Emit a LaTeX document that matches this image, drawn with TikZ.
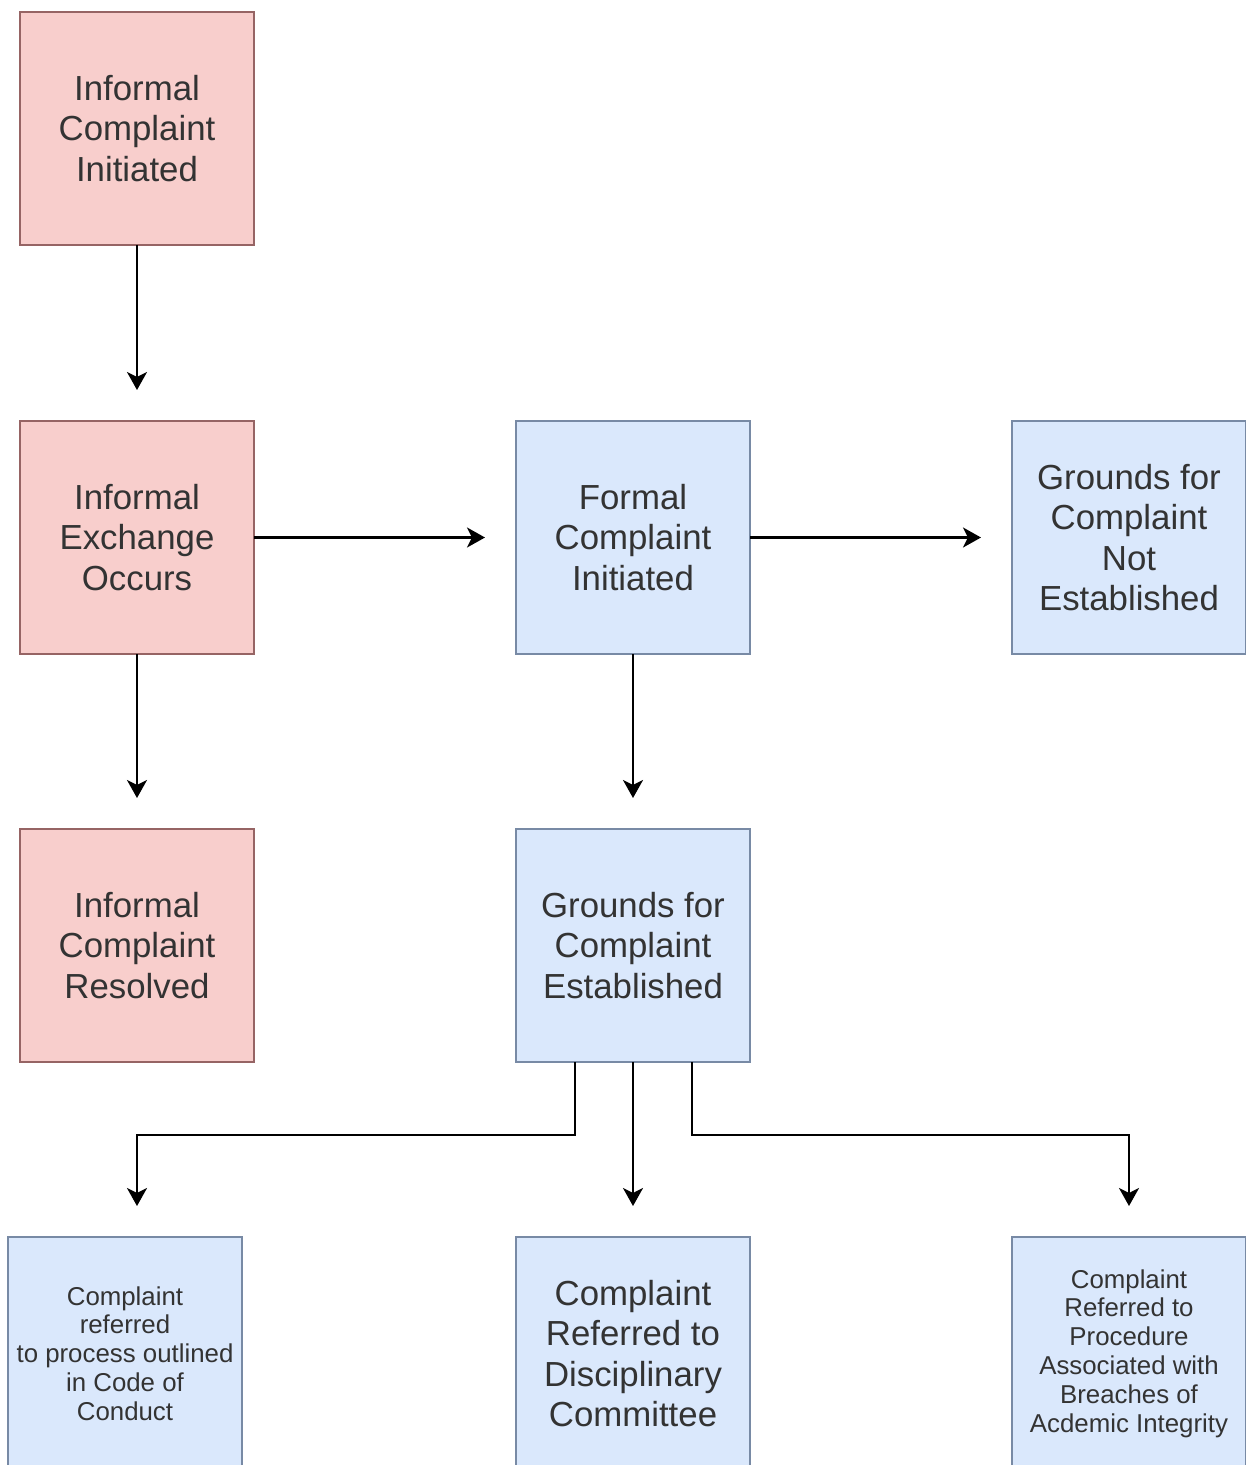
\documentclass[tikz,border=0pt]{standalone}
\usepackage{fontspec}
\setmainfont{Liberation Sans}
\usetikzlibrary{arrows.meta,positioning}
\definecolor{pinkFill}{RGB}{248,206,204}
\definecolor{pinkLine}{RGB}{150,100,100}
\definecolor{blueFill}{RGB}{218,232,252}
\definecolor{blueLine}{RGB}{120,138,165}
\definecolor{textInk}{RGB}{51,51,51}
\tikzset{
  box/.style={draw, line width=1pt, align=center, minimum width=4.68cm, minimum height=4.66cm, inner sep=0pt, outer sep=0pt, text=textInk, font=\fontsize{19.8}{23}\selectfont},
  redbox/.style={box, draw=pinkLine, fill=pinkFill},
  bluebox/.style={box, draw=blueLine, fill=blueFill},
  smallbox/.style={bluebox, font=\fontsize{14.7}{16.4}\selectfont},
  flow/.style={-{Stealth[length=0.36cm, width=0.4cm, inset=0.1cm]}, line width=1.4pt, draw=black, shorten >=0.62cm}
}
\begin{document}
\begin{tikzpicture}
        \useasboundingbox (0,0) rectangle (24.9,-29.3);
        \node[redbox] (ici) at (2.74,-2.57) {Informal\\Complaint\\Initiated};
        \node[redbox, below=3.52cm of ici] (ieo) {Informal\\Exchange\\Occurs};
        \node[redbox, below=3.5cm of ieo] (res) {Informal\\Complaint\\Resolved};
        \node[bluebox, right=5.24cm of ieo] (fci) {Formal\\Complaint\\Initiated};
        \node[bluebox, right=5.24cm of fci] (gne) {Grounds for\\Complaint\\Not\\Established};
        \node[bluebox, below=3.5cm of fci] (est) {Grounds for\\Complaint\\Established};
        \node[smallbox, below=3.5cm of res, xshift=-0.24cm] (cod) {Complaint\\referred\\to process outlined\\in Code of\\Conduct};
        \node[bluebox, below=3.5cm of est] (dis) {Complaint\\Referred to\\Disciplinary\\Committee};
        \node[smallbox, right=5.24cm of dis] (aci) {Complaint\\Referred to\\Procedure\\Associated with\\Breaches of\\Acdemic Integrity};
        \draw[flow] (ici) -- (ieo);
        \draw[flow] (ieo) -- (fci);
        \draw[flow] (fci) -- (gne);
        \draw[flow] (ieo) -- (res);
        \draw[flow] (fci) -- (est);
        \draw[flow] ([xshift=-1.16cm]est.south) -- ++(0,-1.46cm) -| (cod.north -| res.south);
        \draw[flow] (est) -- (dis);
        \draw[flow] ([xshift=1.18cm]est.south) -- ++(0,-1.46cm) -| (aci);
      \end{tikzpicture}
\end{document}
